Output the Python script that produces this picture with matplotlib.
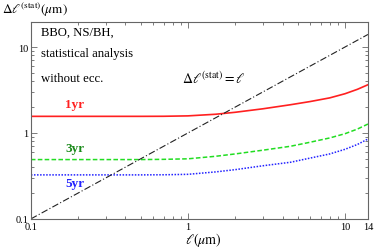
import matplotlib
matplotlib.use('Agg')
import matplotlib.pyplot as plt
from matplotlib.ticker import FixedLocator, NullFormatter, LogLocator

plt.rcParams['font.family'] = ['Liberation Serif', 'DejaVu Serif']
plt.rcParams['mathtext.fontset'] = 'stix'

# ell (micrometre) sample points and Delta ell^(stat) for each observation time
ell = [0.1, 0.3, 0.5, 0.7, 1, 1.5, 2, 3, 4.5, 6, 8, 10, 12, 14]
dl_1yr = [1.56, 1.56, 1.56, 1.563, 1.58, 1.65, 1.74, 1.91, 2.13, 2.32, 2.56, 2.86, 3.22, 3.64]
dl_3yr = [0.49, 0.49, 0.49, 0.493, 0.50, 0.535, 0.57, 0.63, 0.70, 0.78, 0.875, 0.98, 1.11, 1.27]
dl_5yr = [0.325, 0.325, 0.325, 0.326, 0.33, 0.352, 0.374, 0.415, 0.456, 0.51, 0.57, 0.645, 0.735, 0.85]
diag = [0.1, 14]

xtick_vals = [0.1, 1, 10, 14]
xtick_labels = ['0.1', '1', '10', '14']
ytick_vals = [0.1, 1, 10]
ytick_labels = ['0.1', '1', '10']

fig = plt.figure(figsize=(3.77, 2.51), dpi=100)
ax = fig.add_axes([0.082, 0.124, 0.894, 0.784])

ax.plot(ell, dl_1yr, color='#ff2020', lw=1.2)
ax.plot(ell, dl_3yr, color='#22dd22', lw=1.1, ls=(0, (3, 1.5)))
ax.plot(ell, dl_5yr, color='#2222ff', lw=1.1, ls=(0, (1, 1)))
ax.plot(diag, diag, color='#222222', lw=0.8, ls=(0, (6, 2, 1, 2)))

ax.set_xscale('log')
ax.set_yscale('log')
ax.set_xlim(0.1, 14)
ax.set_ylim(0.1, 19.5)

ax.xaxis.set_major_locator(FixedLocator(xtick_vals))
ax.set_xticklabels(xtick_labels)
ax.yaxis.set_major_locator(FixedLocator(ytick_vals))
ax.set_yticklabels(ytick_labels)
ax.xaxis.set_minor_locator(LogLocator(base=10, subs=range(2, 10)))
ax.yaxis.set_minor_locator(LogLocator(base=10, subs=range(2, 10)))
ax.xaxis.set_minor_formatter(NullFormatter())
ax.yaxis.set_minor_formatter(NullFormatter())
ax.tick_params(which='both', direction='in', top=True, right=True,
               labelsize=7.5, color='#666666', width=0.6, pad=2)
ax.tick_params(which='major', length=4)
ax.tick_params(which='minor', length=2)
for s in ax.spines.values():
    s.set_color('#666666')
    s.set_linewidth(0.8)

fig.text(0.005, 0.96, r'$\Delta\ell^{(\mathrm{stat})}(\mu\mathrm{m})$', fontsize=9.5,
         va='center', ha='left')
fig.text(0.49, 0.045, r'$\ell(\mu\mathrm{m})$', fontsize=10, va='center', ha='left')

ax.text(0.03, 0.95, 'BBO, NS/BH,', transform=ax.transAxes, fontsize=9.2, va='center')
ax.text(0.03, 0.845, 'statistical analysis', transform=ax.transAxes, fontsize=9.2, va='center')
ax.text(0.03, 0.715, 'without ecc.', transform=ax.transAxes, fontsize=9.2, va='center')
ax.text(0.92, 4.4, r'$\Delta\ell^{(\mathrm{stat})}=\ell$', fontsize=10, va='center', ha='left')

ax.text(0.19, 2.17, '1yr', color='#ff2020', fontsize=9.5, fontweight='bold', ha='center', va='center')
ax.text(0.19, 0.67, '3yr', color='#1a8a1a', fontsize=9.5, fontweight='bold', ha='center', va='center')
ax.text(0.19, 0.26, '5yr', color='#2222ff', fontsize=9.5, fontweight='bold', ha='center', va='center')

fig.savefig('out.png', dpi=100)
